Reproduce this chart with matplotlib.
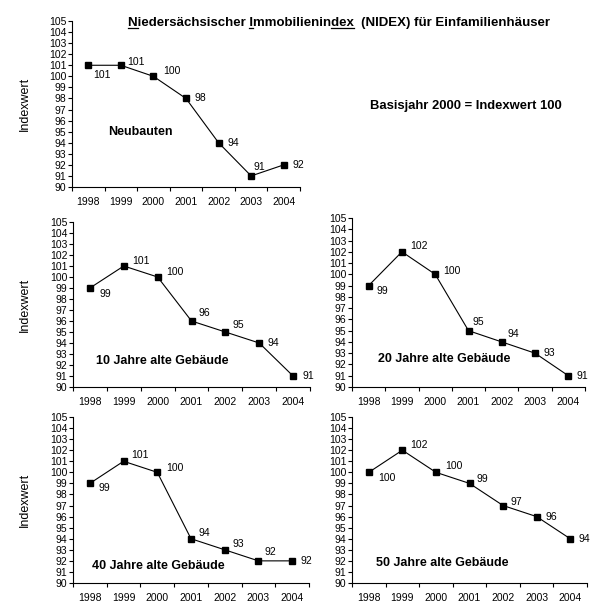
import numpy as np
import matplotlib
matplotlib.use('Agg')
import matplotlib.pyplot as plt
from matplotlib.lines import Line2D

plt.rcParams['font.family'] = ['Liberation Sans', 'DejaVu Sans']

# Data
years = ['1998', '1999', '2000', '2001', '2002', '2003', '2004']
neubauten = [101, 101, 100, 98, 94, 91, 92]
jahre_10 = [99, 101, 100, 96, 95, 94, 91]
jahre_20 = [99, 102, 100, 95, 94, 93, 91]
jahre_40 = [99, 101, 100, 94, 93, 92, 92]
jahre_50 = [100, 102, 100, 99, 97, 96, 94]
y_ticks = list(range(90, 106))

title_text = 'Niedersächsischer Immobilienindex  (NIDEX) für Einfamilienhäuser'
basis_text = 'Basisjahr 2000 = Indexwert 100'

W, H = 615, 610
fig = plt.figure(figsize=(W / 100, H / 100), dpi=100)


def px_axes(left, top, right, bottom):
    return fig.add_axes([left / W, 1 - bottom / H, (right - left) / W, (bottom - top) / H])


# label offsets in pixels (right, down) per point
panels = [
    dict(box=(72, 21, 300, 187), values=neubauten, name='Neubauten', name_pos=(1.1, 95.0), ylabel=True,
         offs=[(14, 10), (15, -3), (18, -5), (14, 0), (15, 0), (8, -9), (15, 0)]),
    dict(box=(73, 222, 310, 387), values=jahre_10, name='10 Jahre alte Gebäude', name_pos=(0.68, 92.35), ylabel=True,
         offs=[(15, 6), (17, -5), (17, -5), (13, -8), (13, -7), (14, 0), (15, 0)]),
    dict(box=(352, 218, 585, 387), values=jahre_20, name='20 Jahre alte Gebäude', name_pos=(0.78, 92.5), ylabel=False,
         offs=[(14, 5), (17, -6), (17, -3), (10, -9), (12, -8), (14, 0), (14, 0)]),
    dict(box=(73, 417, 309, 583), values=jahre_40, name='40 Jahre alte Gebäude', name_pos=(0.56, 91.5), ylabel=True,
         offs=[(15, 5), (16, -6), (18, -4), (13, -6), (14, -6), (12, -9), (14, 0)]),
    dict(box=(352, 417, 587, 583), values=jahre_50, name='50 Jahre alte Gebäude', name_pos=(0.71, 91.8), ylabel=False,
         offs=[(18, 6), (17, -5), (18, -6), (13, -4), (13, -4), (15, 0), (14, 0)]),
]

for p in panels:
    ax = px_axes(*p['box'])
    x = np.arange(len(years)) + 0.5
    ax.plot(x, p['values'], color='black', lw=0.8, marker='s', ms=5, mfc='black', mec='black')
    ax.set_xlim(0, len(years))
    ax.set_ylim(90, 105)
    ax.set_yticks(y_ticks)
    ax.tick_params(axis='y', direction='out', length=3, width=0.8, pad=1, labelsize=7.5)
    ax.set_xticks(range(len(years) + 1))
    ax.set_xticklabels([])
    ax.set_xticks(x, minor=True)
    ax.set_xticklabels(years, minor=True)
    ax.tick_params(axis='x', which='major', direction='out', length=3, width=0.8)
    ax.tick_params(axis='x', which='minor', length=0, pad=7, labelsize=7.5)
    for s in ['top', 'right']:
        ax.spines[s].set_visible(False)
    for s in ['left', 'bottom']:
        ax.spines[s].set_linewidth(0.8)
    for xi, v, (dx, dy) in zip(x, p['values'], p['offs']):
        ax.annotate(str(v), (xi, v), xytext=(dx, -dy), textcoords='offset pixels',
                    ha='center', va='center', fontsize=7.5)
    ax.text(p['name_pos'][0], p['name_pos'][1], p['name'], fontsize=9, fontweight='bold',
            ha='left', va='center')
    if p['ylabel']:
        ax.set_ylabel('Indexwert', fontsize=9)
        ax.yaxis.set_label_coords(-(p['box'][0] - 31) / (p['box'][2] - p['box'][0]), 0.5)

# Title with underlined letters
title_size = 9.5
tx, ty = 339 / W, 1 - 23 / H
title = fig.text(tx, ty, title_text, fontsize=title_size, fontweight='bold', ha='center', va='center')
fig.text(466 / W, 1 - 106 / H, basis_text, fontsize=9.4, fontweight='bold', ha='center', va='center')

fig.canvas.draw()
renderer = fig.canvas.get_renderer()
bb = title.get_window_extent(renderer)


def text_width(s):
    t = fig.text(0, 0, s, fontsize=title_size, fontweight='bold')
    w = t.get_window_extent(renderer).width
    t.remove()
    return w


full_w = text_width(title_text)
for start, end in [(0, 1), (18, 19), (30, 33)]:
    x0 = bb.x0 + text_width(title_text[:start]) * bb.width / full_w if start else bb.x0
    x1 = bb.x0 + text_width(title_text[:end]) * bb.width / full_w
    yl = (H - 28) / H
    fig.add_artist(Line2D([x0 / W, x1 / W], [yl, yl], color='black', lw=0.9, transform=fig.transFigure))

fig.savefig('out.png', dpi=100)
